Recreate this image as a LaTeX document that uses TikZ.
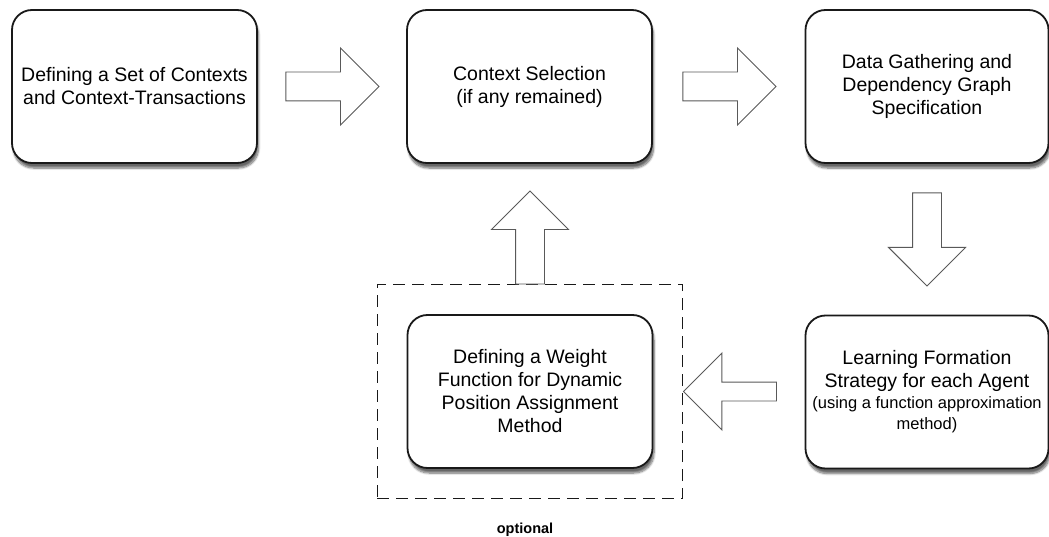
\documentclass[tikz,border=0pt]{standalone}
\usepackage{fontspec}
\setmainfont{Liberation Sans}
\usetikzlibrary{shapes.arrows,fit,calc,shadows.blur}

\begin{document}
\begin{tikzpicture}[x=1pt,y=-1pt]
  \tikzstyle{stage}=[rectangle,rounded corners=20pt,line width=1.8pt,draw=black!90,fill=white,
    minimum width=245pt,minimum height=153pt,align=center,font=\fontsize{19.5}{23}\selectfont,
    blur shadow={shadow xshift=1.5pt,shadow yshift=-5pt,shadow blur steps=8,shadow opacity=60}]
  \tikzstyle{flow}=[single arrow,draw=black!65,line width=0.9pt,fill=white,minimum height=93pt,
    single arrow head extend=24pt,inner sep=14pt,outer sep=0pt,anchor=tail]
  \tikzstyle{optbox}=[draw=black!90,line width=1.1pt,dash pattern=on 12pt off 7pt,inner sep=29.5pt]
  \useasboundingbox (0,0) rectangle (1049,537);

  % stages
  \node [stage] (b1) at (134.5,86.5) {Defining a Set of Contexts\\and Context-Transactions};
  \node [stage] (b2) at (529.5,86.5) {Context Selection\\(if any remained)};
  \node [stage,minimum width=243pt] (b3) at (927,86.5) {Data Gathering and\\Dependency Graph\\Specification};
  \node [stage] (b4) at (530,391.5) {Defining a Weight\\Function for Dynamic\\Position Assignment\\Method};
  \node [stage,minimum width=243pt] (b5) at (927,392) {Learning Formation\\Strategy for each Agent\\[-2pt]
    {\fontsize{16.5}{21}\selectfont(using a function approximation}\\[-2pt]{\fontsize{16.5}{21}\selectfont method)}};

  % optional part
  \node [optbox,fit=(b4)] (opt) {};
  \node [font=\fontsize{14.5}{14.5}\bfseries\selectfont] (optlbl) at (525,530) {optional};

  % arrows
  \node [flow] (a12) at ($(b1.east)+(28,0)$) {};
  \node [flow] (a23) at ($(b2.east)+(30,0)$) {};
  \node [flow,shape border rotate=270] (a35) at ($(b3.south)+(0,29)$) {};
  \node [flow,inner sep=9pt,single arrow head extend=29pt,shape border rotate=180,anchor=tip] (a54) at (opt.east) {};
  \node [flow,shape border rotate=90] (a42) at (opt.north) {};
\end{tikzpicture}
\end{document}
